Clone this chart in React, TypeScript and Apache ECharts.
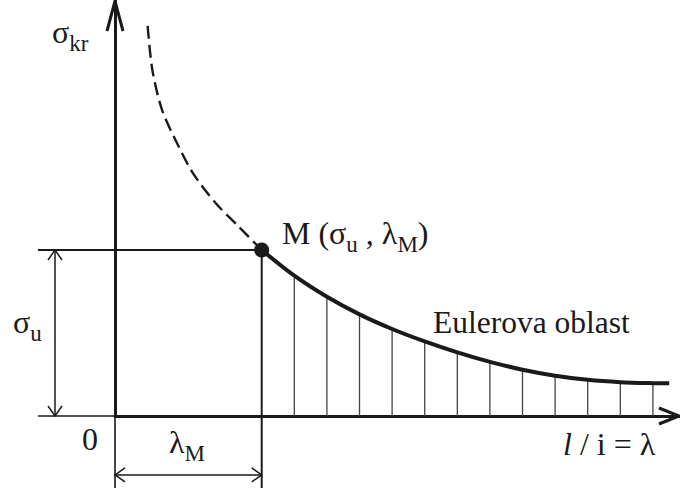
import React, { useEffect, useRef } from "react";
import * as echarts from "echarts";

// Euler hyperbola σ_kr(λ): dashed part (not valid) and solid part (Euler region)
const lambdaDashed = [10, 11.5, 14.5, 19, 24, 31, 38, 45];
const sigmaDashed = [235, 208, 184, 164.5, 146, 128, 114, 100];
const lambdaSolid = [45, 55, 65, 75, 85, 95, 105, 115, 125, 135, 145, 155, 165, 170];
const sigmaSolid = [100, 84.5, 71.8, 61.2, 52.4, 44.9, 38.3, 32.6, 27.9, 24.3, 21.8, 20.4, 19.8, 19.7];

// limit point M (σ_u, λ_M)
const lambdaM = 45;
const sigmaU = 100;

// axis extents
const X_MAX = 173;
const Y_MAX = 250;

const FONT = '"Liberation Serif", "Times New Roman", serif';
const INK = "#1a1a1a";

// dimension-line placement (data units, outside the plot area)
const EXT_LEFT = -23.6;
const EXT_DOWN = -43.4;
const DIM_SIGMA_AT = -18.4;
const DIM_LAMBDA_AT = -35.5;

let measureCtx: CanvasRenderingContext2D | null = null;
function textWidth(t: string, size: number, italic?: boolean) {
  if (!measureCtx) measureCtx = document.createElement("canvas").getContext("2d");
  measureCtx!.font = `${italic ? "italic " : ""}${size}px ${FONT}`;
  return measureCtx!.measureText(t).width;
}

type Part = { t: string; size: number; sub?: boolean; italic?: boolean };

// lays out a run of text pieces on a common baseline, subscripts dropped
function textRun(x: number, baseline: number, parts: Part[]) {
  const out: any[] = [];
  let cx = x;
  for (const p of parts) {
    const base = baseline + (p.sub ? 8 : 0);
    out.push({
      type: "text",
      x: cx,
      y: base - 0.34 * p.size,
      style: {
        text: p.t,
        font: `${p.italic ? "italic " : ""}${p.size}px ${FONT}`,
        fill: INK,
        align: "left",
        verticalAlign: "middle",
      },
      z: 10,
    });
    cx += textWidth(p.t, p.size, p.italic);
  }
  return out;
}

function chevron(tip: number[], dir: number[], len: number, half: number, width: number) {
  const [dx, dy] = dir;
  const nx = -dy;
  const ny = dx;
  const bx = tip[0] - dx * len;
  const by = tip[1] - dy * len;
  return {
    type: "polyline",
    shape: {
      points: [
        [bx + nx * half, by + ny * half],
        tip,
        [bx - nx * half, by - ny * half],
      ],
    },
    style: { stroke: INK, lineWidth: width, fill: "none" },
  };
}

function seg(a: number[], b: number[], width: number, color = INK) {
  return {
    type: "line",
    shape: { x1: a[0], y1: a[1], x2: b[0], y2: b[1] },
    style: { stroke: color, lineWidth: width },
  };
}

export default function App() {
  const ref = useRef<HTMLDivElement>(null);

  useEffect(() => {
    if (!ref.current) return;
    const chart = echarts.init(ref.current, undefined, { renderer: "svg" });

    const hatchLambda = lambdaSolid.slice(1, -1);
    const hatchSigma = sigmaSolid.slice(1, -1);

    const renderConstruction = (_params: any, api: any) => {
      const c = (l: number, s: number) => api.coord([l, s]);
      const children: any[] = [];

      // extension lines
      children.push(seg(c(EXT_LEFT, 0), c(0, 0), 1.6));
      children.push(seg(c(0, 0), c(0, EXT_DOWN), 1.6));
      children.push(seg(c(EXT_LEFT, sigmaU), c(lambdaM, sigmaU), 2));
      children.push(seg(c(lambdaM, sigmaU), c(lambdaM, EXT_DOWN), 2));

      // hatching of the Euler region
      hatchLambda.forEach((l, i) => {
        children.push(seg(c(l, 0), c(l, hatchSigma[i]), 1.3, "#444"));
      });

      // σ_u dimension
      const s0 = c(DIM_SIGMA_AT, 0);
      const s1 = c(DIM_SIGMA_AT, sigmaU);
      children.push(seg(s0, s1, 1.5));
      children.push(chevron(s1, [0, -1], 10, 7, 1.5));
      children.push(chevron(s0, [0, 1], 10, 7, 1.5));

      // λ_M dimension
      const l0 = c(0, DIM_LAMBDA_AT);
      const l1 = c(lambdaM, DIM_LAMBDA_AT);
      children.push(seg(l0, l1, 1.5));
      children.push(chevron(l0, [-1, 0], 10, 7, 1.5));
      children.push(chevron(l1, [1, 0], 10, 7, 1.5));

      // axis arrowheads
      children.push(chevron(c(0, Y_MAX), [0, -1], 30, 8, 3));
      children.push(chevron(c(X_MAX, 0), [1, 0], 20, 8, 3));

      return { type: "group", children };
    };

    const graphic = [
      ...textRun(52, 43, [
        { t: "σ", size: 32 },
        { t: "kr", size: 23, sub: true },
      ]),
      ...textRun(13, 333, [
        { t: "σ", size: 32 },
        { t: "u", size: 23, sub: true },
      ]),
      ...textRun(82, 450, [{ t: "0", size: 32 }]),
      ...textRun(169, 453, [
        { t: "λ", size: 32 },
        { t: "M", size: 23, sub: true },
      ]),
      ...textRun(282, 244, [
        { t: "M (σ", size: 32 },
        { t: "u", size: 23, sub: true },
        { t: " , λ", size: 32 },
        { t: "M", size: 23, sub: true },
        { t: ")", size: 32 },
      ]),
      ...textRun(433, 333, [{ t: "Eulerova oblast", size: 31.5 }]),
      ...textRun(563, 455, [
        { t: "l", size: 32, italic: true },
        { t: " / i = λ", size: 32 },
      ]),
    ];

    chart.setOption({
      animation: false,
      backgroundColor: "#ffffff",
      grid: { left: 115, right: 1, top: 1, bottom: 75 },
      xAxis: {
        type: "value",
        min: 0,
        max: X_MAX,
        axisLine: { show: true, lineStyle: { color: INK, width: 3 } },
        axisTick: { show: false },
        axisLabel: { show: false },
        splitLine: { show: false },
      },
      yAxis: {
        type: "value",
        min: 0,
        max: Y_MAX,
        axisLine: { show: true, lineStyle: { color: INK, width: 3 } },
        axisTick: { show: false },
        axisLabel: { show: false },
        splitLine: { show: false },
      },
      series: [
        {
          type: "custom",
          clip: false,
          z: 1,
          silent: true,
          data: [[0, 0]],
          renderItem: renderConstruction,
        },
        {
          type: "line",
          z: 3,
          data: lambdaDashed.map((l, i) => [l, sigmaDashed[i]]),
          smooth: 0.3,
          showSymbol: false,
          lineStyle: { color: INK, width: 2.4, type: [13, 6] },
        },
        {
          type: "line",
          z: 3,
          data: lambdaSolid.map((l, i) => [l, sigmaSolid[i]]),
          smooth: 0.3,
          showSymbol: false,
          lineStyle: { color: INK, width: 4 },
        },
        {
          type: "scatter",
          z: 4,
          data: [[lambdaM, sigmaU]],
          symbolSize: 15,
          itemStyle: { color: INK, opacity: 1 },
        },
      ],
      graphic,
    });

    return () => chart.dispose();
  }, []);

  return (
    <div
      ref={ref}
      style={{ position: "absolute", left: 0, top: 0, width: 680, height: 491, background: "#fff" }}
    />
  );
}
